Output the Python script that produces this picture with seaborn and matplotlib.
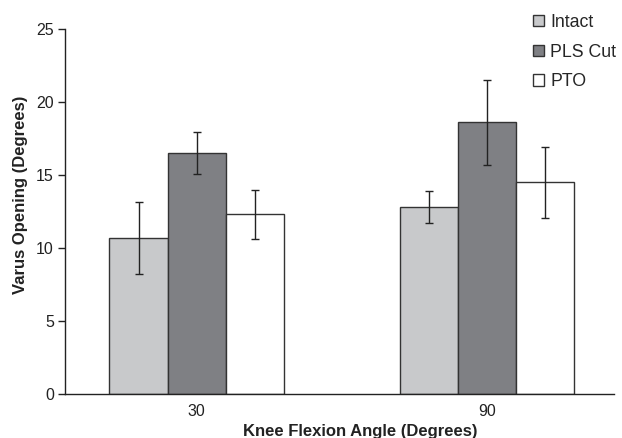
import matplotlib
matplotlib.use("Agg")
import matplotlib.pyplot as plt
import seaborn as sns
import pandas as pd
from matplotlib.patches import Patch

angles = ["30", "90"]
conditions = ["Intact", "PLS Cut", "PTO"]
intact = [10.7, 12.8]
pls_cut = [16.5, 18.6]
pto = [12.3, 14.5]
intact_err = [2.45, 1.1]
pls_cut_err = [1.45, 2.9]
pto_err = [1.7, 2.43]
colors = ["#c8c9cb", "#7f8084", "#ffffff"]

sns.set_theme(style="white")
plt.rcParams['font.family'] = ['Liberation Sans', 'DejaVu Sans']

rows = []
for cond, vals in zip(conditions, [intact, pls_cut, pto]):
    for a, v in zip(angles, vals):
        rows.append({"angle": a, "condition": cond, "value": v})
df = pd.DataFrame(rows)

fig = plt.figure(figsize=(6.22, 4.38), dpi=100)
ax = fig.add_axes([65/622, 44/438, (614-65)/622, (394-29)/438])

sns.barplot(data=df, x="angle", y="value", hue="condition", order=angles,
            hue_order=conditions, palette=colors, errorbar=None, width=0.6,
            edgecolor="#333333", linewidth=1.0, saturation=1, ax=ax, legend=False)

for cont, errs, vals in zip(ax.containers, [intact_err, pls_cut_err, pto_err],
                            [intact, pls_cut, pto]):
    xs = [p.get_x() + p.get_width() / 2 for p in cont.patches]
    ax.errorbar(xs, vals, yerr=errs, fmt="none", ecolor="#222222",
                elinewidth=1.0, capsize=3, capthick=1.0)

ax.set_xlim(-0.453, 1.436)
ax.set_ylim(0, 25)
ax.set_yticks([0, 5, 10, 15, 20, 25])
for s in ["top", "right"]:
    ax.spines[s].set_visible(False)
for s in ["left", "bottom"]:
    ax.spines[s].set_color("#222222")
    ax.spines[s].set_linewidth(1.0)
ax.tick_params(axis="y", which="both", left=True, length=5, width=1,
               color="#222222", labelsize=11.5, labelcolor="#222222", pad=3)
ax.tick_params(axis="x", bottom=False, labelsize=11.5, labelcolor="#222222", pad=1)

ax.set_ylabel("Varus Opening (Degrees)", fontsize=12, fontweight="bold",
              color="#222222")
ax.yaxis.set_label_coords(-0.067, (394-195)/365)
ax.set_xlabel("Knee Flexion Angle (Degrees)", fontsize=12, fontweight="bold",
              color="#222222")
ax.xaxis.set_label_coords((360-65)/(614-65), -0.082)

handles = [Patch(facecolor=c, edgecolor="#333333", linewidth=1.0) for c in colors]
fig.legend(handles, conditions, loc="upper left", bbox_to_anchor=(521/622, 0.997),
           frameon=False, fontsize=12.8, handlelength=0.6, handleheight=0.6,
           handletextpad=0.35, labelspacing=0.72, borderaxespad=0.3)

fig.savefig("out.png", dpi=100)
